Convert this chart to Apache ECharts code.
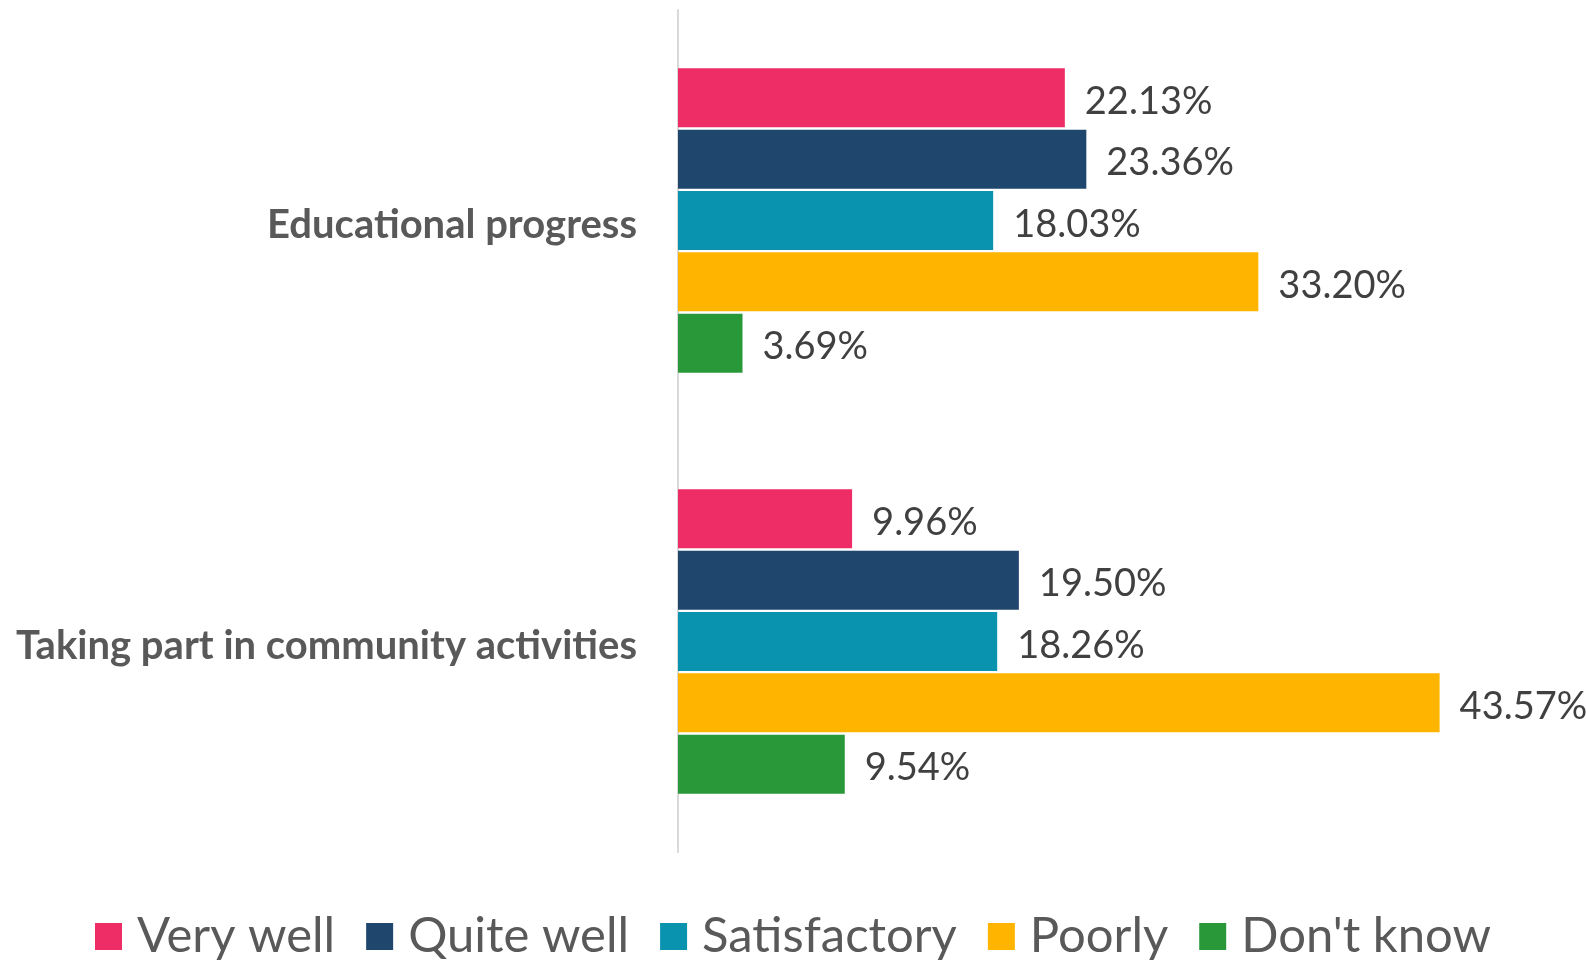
<!DOCTYPE html>
<html>
<head>
<meta charset="utf-8">
<script src="https://cdn.jsdelivr.net/npm/echarts@6/dist/echarts.min.js"></script>
<style>
  html, body { margin: 0; padding: 0; background: #fff; }
  #chart { width: 1586px; height: 960px; }
</style>
</head>
<body>
<div id="chart"></div>
<script>
const categories = ['Educational progress', 'Taking part in community activities'];
const seriesNames = ['Very well', 'Quite well', 'Satisfactory', 'Poorly', "Don't know"];
const veryWell = [22.13, 9.96];
const quiteWell = [23.36, 19.50];
const satisfactory = [18.03, 18.26];
const poorly = [33.20, 43.57];
const dontKnow = [3.69, 9.54];
const colors = ['#ee2d66', '#1f466d', '#0993af', '#ffb500', '#289839'];

const values = [veryWell, quiteWell, satisfactory, poorly, dontKnow];
const font = 'Lato, "Open Sans", sans-serif';

const chart = echarts.init(document.getElementById('chart'));

const series = seriesNames.map((name, i) => ({
  name: name,
  type: 'bar',
  data: values[i],
  barWidth: 59,
  barGap: '4%',
  itemStyle: { color: colors[i] },
  label: {
    show: true,
    position: 'right',
    distance: 20,
    offset: [0, 4],
    color: '#404040',
    fontSize: 38,
    fontFamily: font,
    formatter: p => p.value.toFixed(2) + '%'
  }
}));

chart.setOption({
  animation: false,
  color: colors,
  grid: { left: 678, top: 10, width: 874, height: 842 },
  xAxis: {
    type: 'value',
    min: 0,
    max: 50,
    show: false
  },
  yAxis: {
    type: 'category',
    data: categories,
    inverse: true,
    axisLine: { show: true, lineStyle: { color: '#d9d9d9', width: 2 } },
    axisTick: { show: false },
    axisLabel: {
      margin: 41,
      formatter: v => '{t|' + v + '}',
      rich: {
        t: {
          color: '#595959',
          fontSize: 40,
          fontWeight: 'bold',
          fontFamily: font,
          padding: [9, 0, 0, 0]
        }
      }
    }
  },
  legend: {
    bottom: -6,
    left: 'center',
    icon: 'rect',
    itemWidth: 27,
    itemHeight: 27,
    itemGap: 31,
    textStyle: { color: '#595959', fontSize: 49, fontFamily: font, padding: [0, 0, 0, 10] },
    data: seriesNames
  },
  series: series
});
</script>
</body>
</html>
